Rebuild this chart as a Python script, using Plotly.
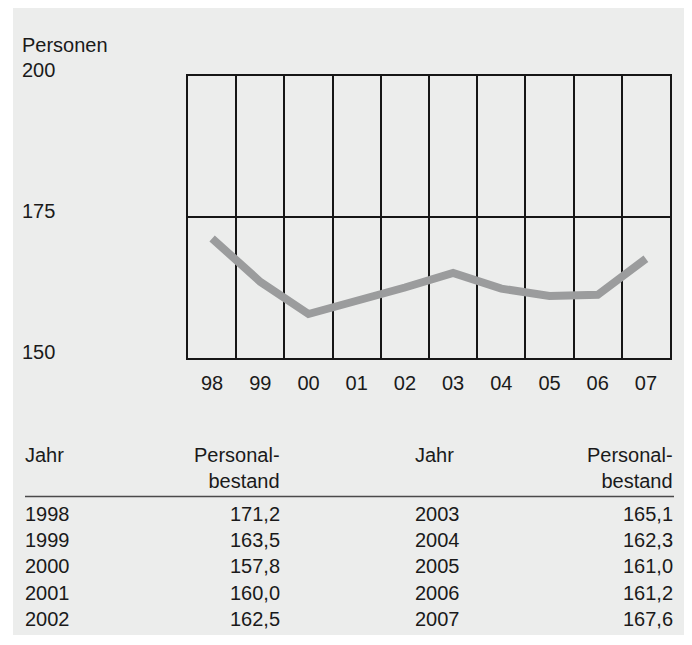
import plotly.graph_objects as go

# ---- data ----
years = [1998, 1999, 2000, 2001, 2002, 2003, 2004, 2005, 2006, 2007]
year_labels = ["98", "99", "00", "01", "02", "03", "04", "05", "06", "07"]
personal = [171.2, 163.5, 157.8, 160.0, 162.5, 165.1, 162.3, 161.0, 161.2, 167.6]
y_ticks = [150, 175, 200]
y_title = "Personen"
col_year = "Jahr"
col_value = "Personal-<br>bestand"

# ---- layout geometry (pixels in the screenshot; page body adds an 8px offset) ----
OFF = 8
W, H = 692 - OFF, 645 - OFF
L, R, T, B = 188 - OFF, 670 - OFF, 76 - OFF, 358 - OFF
PW, PH = R - L, B - T
FONT = "Liberation Sans, Arial, Helvetica, sans-serif"
TXT = "#1a1a1a"
BG = "#ecedec"
GRID = "#161616"


def px2x(px):
    return (px - OFF - L) / PW


def px2y(py):
    return (B - (py - OFF)) / PH


fig = go.Figure()
fig.add_trace(go.Scatter(
    x=year_labels, y=personal, mode="lines",
    line=dict(color="#9b9c9d", width=8),
    hoverinfo="skip", showlegend=False,
))

annotations = []
# y-axis labels
annotations.append(dict(text=y_title, xref="paper", yref="paper", x=px2x(20), y=px2y(45),
                        xanchor="left", yanchor="middle", showarrow=False,
                        font=dict(size=20, color=TXT, family=FONT)))
for v in y_ticks:
    annotations.append(dict(text=str(v), xref="paper", yref="y", x=px2x(20), y=v,
                            xanchor="left", yanchor="middle", yshift=6, showarrow=False,
                            font=dict(size=20, color=TXT, family=FONT)))

# table
groups = [(0, 5, 23, 281), (5, 10, 413, 674)]
header_y = 468
row0, row_step = 514, 26.2
for start, end, x_left, x_right in groups:
    annotations.append(dict(text=col_year, xref="paper", yref="paper", x=px2x(x_left), y=px2y(455),
                            xanchor="left", yanchor="middle", showarrow=False,
                            font=dict(size=20, color=TXT, family=FONT)))
    annotations.append(dict(text=col_value, xref="paper", yref="paper", x=px2x(x_right + 1), y=px2y(header_y),
                            xanchor="right", yanchor="middle", align="right", showarrow=False,
                            font=dict(size=20, color=TXT, family=FONT)))
    for k, i in enumerate(range(start, end)):
        yy = px2y(row0 + row_step * k)
        annotations.append(dict(text=str(years[i]), xref="paper", yref="paper", x=px2x(x_left), y=yy,
                                xanchor="left", yanchor="middle", showarrow=False,
                                font=dict(size=20, color=TXT, family=FONT)))
        annotations.append(dict(text=f"{personal[i]:.1f}".replace(".", ","), xref="paper", yref="paper",
                                x=px2x(x_right + 1), y=yy, xanchor="right", yanchor="middle",
                                showarrow=False, font=dict(size=20, color=TXT, family=FONT)))

shapes = [
    dict(type="rect", xref="paper", yref="paper", x0=px2x(13), x1=px2x(687), y0=px2y(5), y1=px2y(635),
         fillcolor=BG, line=dict(width=0), layer="below"),
    dict(type="line", xref="paper", yref="paper", x0=px2x(25), x1=px2x(674), y0=px2y(496.5), y1=px2y(496.5),
         line=dict(color="#4a4a4a", width=1.4)),
]

fig.update_layout(
    width=W, height=H,
    margin=dict(l=L, r=W - R, t=T, b=H - B, pad=0),
    paper_bgcolor="white", plot_bgcolor=BG,
    font=dict(family=FONT, size=20, color=TXT),
    showlegend=False,
    annotations=annotations, shapes=shapes,
    xaxis=dict(type="category", range=[-0.5, len(year_labels) - 0.5], tickson="boundaries",
               showgrid=True, gridcolor=GRID, gridwidth=1.8,
               showline=True, linecolor=GRID, linewidth=1.8, mirror=True, ticks="",
               tickfont=dict(size=20, color=TXT, family=FONT), ticklabelstandoff=6, zeroline=False),
    yaxis=dict(range=[150, 200], tickvals=y_ticks, showticklabels=False, showgrid=True, gridcolor=GRID,
               gridwidth=1.8, showline=True, linecolor=GRID, linewidth=1.8, mirror=True, ticks="",
               zeroline=False),
)

fig.write_html("out.html")
